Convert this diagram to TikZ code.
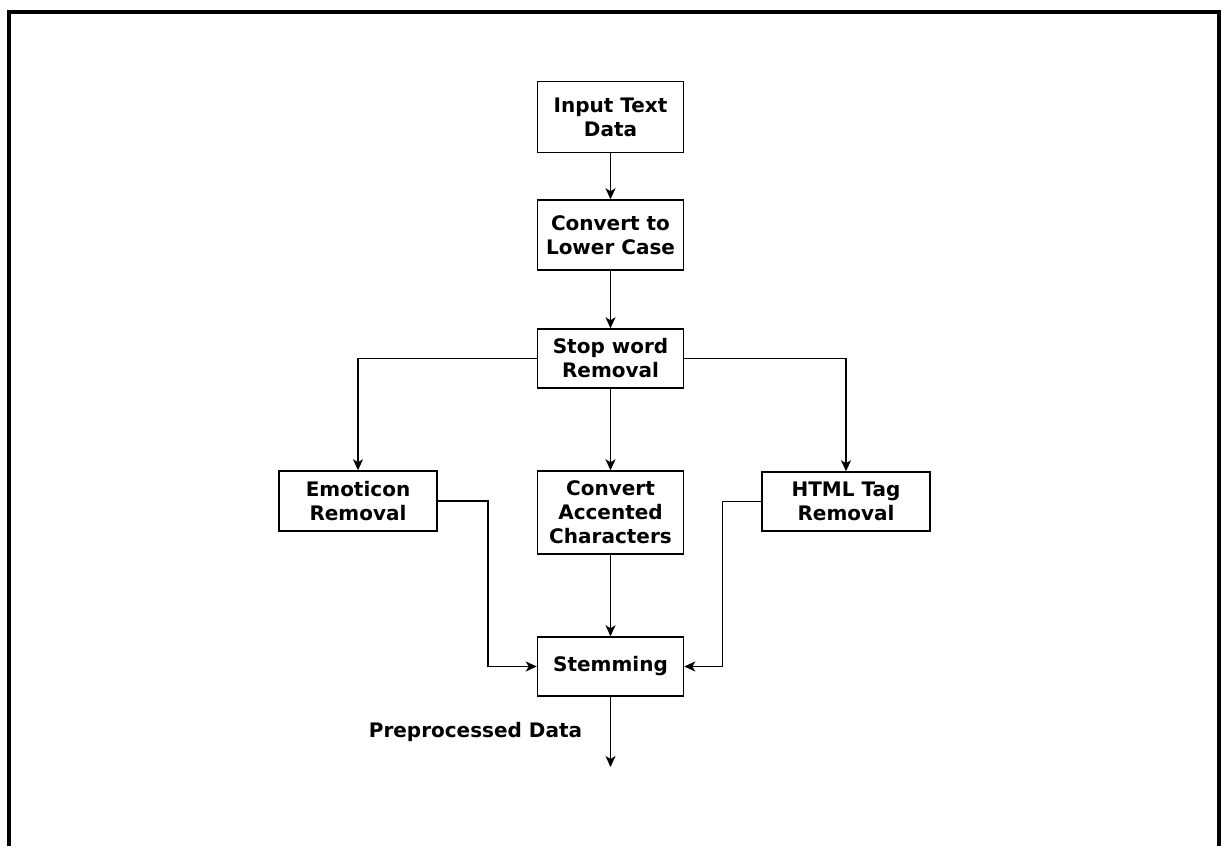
\documentclass[tikz,border=0pt]{standalone}
\usepackage{fontspec}
\setmainfont{DejaVu Sans}
\usetikzlibrary{arrows.meta}
\begin{document}
\begin{tikzpicture}[x=1pt,y=-1pt,
  box/.style={draw, line width=1.5pt, rectangle, inner sep=0pt, align=center,
    font=\fontsize{20}{24}\selectfont\bfseries},
  arr/.style={draw, line width=1.5pt, -{Stealth[length=11pt,width=10pt,inset=3pt]}},
  lbl/.style={font=\fontsize{20}{24}\selectfont\bfseries, inner sep=0pt}]
\useasboundingbox (0,0) rectangle (1222,846);
\draw[line width=4pt] (8.5,846) -- (8.5,11.5) -- (1218.5,11.5) -- (1218.5,846);
\node[box, minimum width=146pt, minimum height=71pt] (in) at (610.5,117) {Input Text\\Data};
\node[box, minimum width=146pt, minimum height=70pt] (lc) at (610.5,235) {Convert to\\Lower Case};
\node[box, minimum width=146pt, minimum height=59pt] (sw) at (610.5,358.5) {Stop word\\Removal};
\node[box, minimum width=158pt, minimum height=60pt] (em) at (358,501) {Emoticon\\Removal};
\node[box, minimum width=146pt, minimum height=83pt] (ac) at (610.5,512.5) {Convert\\Accented\\Characters};
\node[box, minimum width=168pt, minimum height=59pt] (ht) at (846,501.5) {HTML Tag\\Removal};
\node[box, minimum width=146pt, minimum height=59pt] (st) at (610.5,666.5) {Stemming};
\coordinate (out) at (610.5,767);
\node[lbl] (pd) at (475.5,732) {Preprocessed Data};
\draw[arr] (in) -- (lc);
\draw[arr] (lc) -- (sw);
\draw[arr] (sw) -- (ac);
\draw[arr] (sw.west) -| (em.north);
\draw[arr] (sw.east) -| (ht.north);
\draw[arr] (ac) -- (st);
\draw[arr] (em.east) -- ++(50,0) |- (st.west);
\draw[arr] (ht.west) -- ++(-39,0) |- (st.east);
\draw[arr] (st) -- (out);
\end{tikzpicture}
\end{document}
